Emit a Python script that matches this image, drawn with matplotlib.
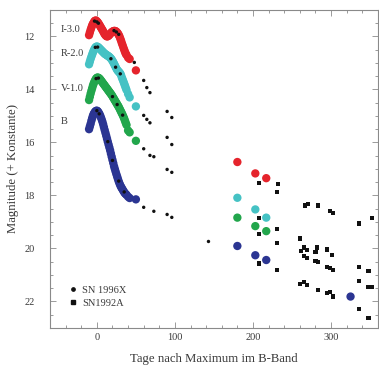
import matplotlib
matplotlib.use("Agg")
import matplotlib.pyplot as plt
from matplotlib.lines import Line2D
from matplotlib.ticker import MultipleLocator

# ---------------- data ----------------
early_days = [-10, -9, -8, -7, -6, -5, -4, -3, -2, -1, 0, 1, 2, 3, 4, 5, 6, 7, 8, 9,
              10, 11, 12, 13, 14, 15, 16, 17, 18, 19, 20, 21, 22, 23, 24, 25, 26, 27,
              28, 29, 30, 31, 32, 33, 34, 35, 36, 37, 38, 40, 42, 50]

i_early = [11.95, 11.85, 11.75, 11.66, 11.58, 11.52, 11.47, 11.42, 11.40, 11.40, 11.43,
           11.46, 11.50, 11.55, 11.60, 11.65, 11.70, 11.75, 11.80, 11.86, 11.91, 11.95,
           11.98, 12.00, 11.99, 11.97, 11.94, 11.90, 11.87, 11.84, 11.82, 11.80, 11.79,
           11.79, 11.80, 11.82, 11.85, 11.89, 11.94, 12.00, 12.08, 12.16, 12.25, 12.33,
           12.42, 12.50, 12.58, 12.65, 12.70, 12.80, 12.85, 13.28]

r_early = [13.05, 12.95, 12.85, 12.76, 12.68, 12.60, 12.53, 12.47, 12.42, 12.39, 12.38,
           12.39, 12.41, 12.44, 12.47, 12.50, 12.53, 12.56, 12.59, 12.62, 12.65, 12.67,
           12.69, 12.71, 12.73, 12.75, 12.77, 12.80, 12.83, 12.87, 12.92, 12.97, 13.03,
           13.09, 13.15, 13.21, 13.26, 13.30, 13.33, 13.36, 13.40, 13.46, 13.55, 13.62,
           13.70, 13.78, 13.86, 13.94, 14.02, 14.17, 14.30, 14.64]

v_early = [14.40, 14.28, 14.16, 14.05, 13.95, 13.85, 13.77, 13.70, 13.64, 13.59, 13.56,
           13.55, 13.56, 13.58, 13.61, 13.65, 13.69, 13.73, 13.77, 13.81, 13.85, 13.89,
           13.93, 13.97, 14.01, 14.05, 14.09, 14.13, 14.17, 14.21, 14.26, 14.31, 14.36,
           14.41, 14.46, 14.51, 14.56, 14.61, 14.66, 14.72, 14.78, 14.84, 14.90, 14.96,
           15.03, 15.10, 15.18, 15.26, 15.34, 15.55, 15.62, 15.94]

b_early = [15.50, 15.40, 15.30, 15.18, 15.08, 14.99, 14.92, 14.87, 14.83, 14.81, 14.80,
           14.82, 14.86, 14.91, 14.97, 15.04, 15.12, 15.21, 15.31, 15.42, 15.53, 15.64,
           15.75, 15.86, 15.97, 16.08, 16.19, 16.30, 16.42, 16.54, 16.66, 16.78, 16.90,
           17.00, 17.10, 17.20, 17.29, 17.38, 17.47, 17.55, 17.62, 17.68, 17.73, 17.78,
           17.83, 17.88, 17.92, 17.95, 17.98, 18.05, 18.10, 18.15]

late_days = [180, 203, 217]
i_late = [16.74, 17.17, 17.35]
r_late = [18.09, 18.53, 18.84]
v_late = [18.84, 19.16, 19.35]
b_late_days = [180, 203, 217, 325]
b_late = [19.91, 20.26, 20.44, 21.82]

# SN 1996X-like small black points (overlaid on curves and on the tail)
small_days = [-3, 0, 2, 22, 25, 28, 48, 60, 64, 68, 90, 96,
              -2, 1, 18, 24, 30, 60, 64, 68, 90, 96,
              -1, 2, 20, 26, 33, 60, 68, 73, 90, 96,
              0, 3, 14, 20, 28, 35, 60, 73, 90, 96, 143]
small_mags = [11.42, 11.45, 11.50, 11.78, 11.83, 11.92, 12.98, 13.66, 13.93, 14.12, 14.83, 15.06,
              12.41, 12.40, 12.84, 13.16, 13.41, 14.98, 15.13, 15.26, 15.81, 16.08,
              13.59, 13.57, 14.27, 14.57, 14.97, 16.24, 16.49, 16.54, 17.02, 17.13,
              14.80, 14.92, 15.97, 16.68, 17.46, 17.87, 18.45, 18.60, 18.72, 18.83, 19.74]

# SN1992A-like late-time points
sq_days = [208, 208, 208, 208, 231, 232, 231, 231, 231,
           260, 261, 265, 269, 265, 269, 267, 270, 283, 299, 302, 336, 353,
           280, 282, 295, 301, 280, 283, 295, 299, 302, 336, 348,
           260, 265, 269, 283, 295, 299, 302, 336, 348, 353, 336, 348]
sq_mags = [17.52, 18.84, 19.47, 20.57, 17.88, 17.58, 19.28, 19.81, 20.83,
           19.63, 20.10, 19.97, 20.06, 20.29, 20.35, 18.38, 18.31, 18.38, 18.59, 18.68, 19.06, 18.84,
           20.14, 19.97, 20.04, 20.25, 20.48, 20.52, 20.69, 20.73, 20.82, 20.71, 20.86,
           21.36, 21.27, 21.38, 21.57, 21.67, 21.65, 21.82, 21.23, 21.46, 21.46, 22.28, 22.62]

band_labels = ["I-3.0", "R-2.0", "V-1.0", "B"]
band_label_mags = [11.72, 12.65, 13.98, 15.2]
legend_labels = ["SN 1996X", "SN1992A"]

x_label = "Tage nach Maximum im B-Band"
y_label = "Magnitude (+ Konstante)"

# ---------------- style ----------------
plt.rcParams['font.family'] = ['Liberation Serif', 'DejaVu Serif']
text_col = '#3a3a3a'
spine_col = '#8a8a8a'
col_i = '#e5242c'
col_r = '#45c2c4'
col_v = '#22a64c'
col_b = '#2b3592'

fig = plt.figure(figsize=(3.79, 3.70), dpi=100)
ax = fig.add_axes([0.132, 0.114, 0.865, 0.859])

s_col = 36
for d, m, c in [(early_days, i_early, col_i), (early_days, r_early, col_r),
                (early_days, v_early, col_v), (early_days, b_early, col_b)]:
    ax.scatter(d, m, s=s_col, color=c, edgecolors='none', zorder=2)
for d, m, c in [(late_days, i_late, col_i), (late_days, r_late, col_r),
                (late_days, v_late, col_v), (b_late_days, b_late, col_b)]:
    ax.scatter(d, m, s=s_col, color=c, edgecolors='none', zorder=2)

ax.scatter(small_days, small_mags, s=6, marker='o', color='#111111', edgecolors='none', zorder=3)
ax.scatter(sq_days, sq_mags, s=9, marker='s', color='#111111', edgecolors='none', zorder=3)

for lab, m in zip(band_labels, band_label_mags):
    ax.text(-46, m, lab, fontsize=7.5, color=text_col, ha='left', va='center')

ax.set_xlim(-60, 360)
ax.set_ylim(23, 11)

ax.xaxis.set_major_locator(MultipleLocator(100))
ax.xaxis.set_minor_locator(MultipleLocator(20))
ax.yaxis.set_major_locator(MultipleLocator(2))
ax.yaxis.set_minor_locator(MultipleLocator(0.5))
ax.tick_params(which='both', direction='in', top=True, right=True, color=spine_col,
               labelcolor=text_col, labelsize=7.5, width=0.6)
ax.tick_params(which='major', length=4)
ax.tick_params(which='minor', length=2)
ax.tick_params(axis='y', which='major', pad=11)
ax.tick_params(axis='x', which='major', pad=4)
for sp in ax.spines.values():
    sp.set_color(spine_col)
    sp.set_linewidth(0.8)

ax.set_xlabel(x_label, fontsize=9.2, color=text_col, labelpad=8)
ax.set_ylabel(y_label, fontsize=9.2, color=text_col)
ax.yaxis.set_label_coords(-0.095, 0.5)

handles = [Line2D([], [], marker='o', ms=2.4, color='#111111', ls='none'),
           Line2D([], [], marker='s', ms=2.8, color='#111111', ls='none')]
ax.legend(handles, legend_labels, loc='lower left', bbox_to_anchor=(0.045, 0.05),
          frameon=False, fontsize=7.5, handlelength=0.8, handletextpad=0.5,
          labelspacing=0.35, borderaxespad=0, labelcolor=text_col)

fig.savefig("out.png", dpi=100)
